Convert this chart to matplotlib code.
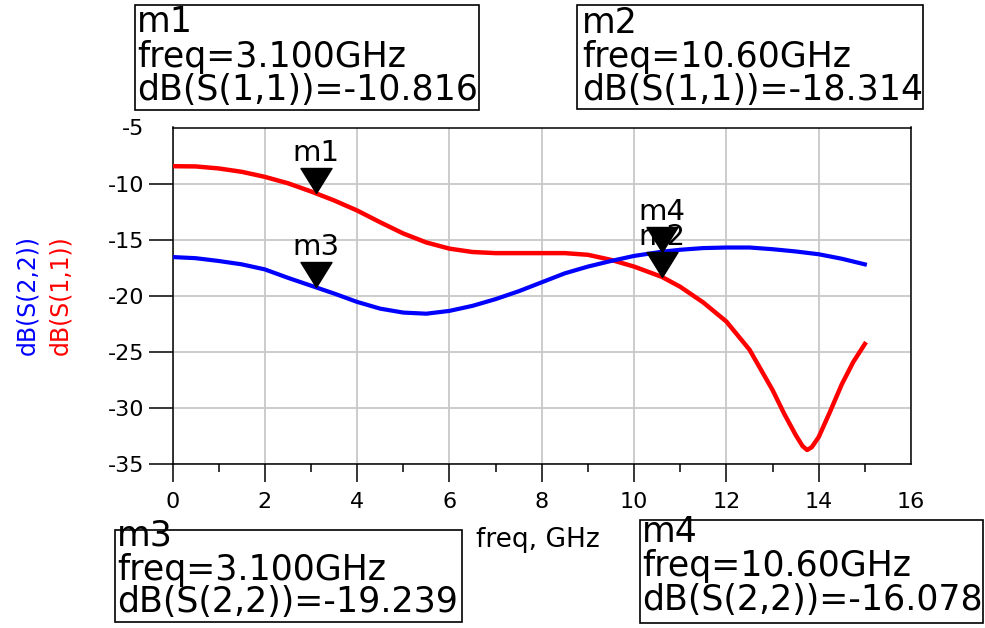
import matplotlib.pyplot as plt
from matplotlib.patches import Rectangle

plt.rcParams['font.family'] = 'DejaVu Sans'
plt.rcParams['axes.unicode_minus'] = False

# Dados (ADS): dB(S(1,1)) e dB(S(2,2)) x freq (GHz)
freq_s11 = [0.0, 0.5, 1.0, 1.5, 2.0, 2.5, 3.0, 3.5, 4.0, 4.5, 5.0, 5.5, 6.0, 6.5,
            7.0, 7.5, 8.0, 8.5, 9.0, 9.5, 10.0, 10.6, 11.0, 11.5, 12.0, 12.5,
            13.0, 13.25, 13.5, 13.65, 13.75, 13.85, 14.0, 14.25, 14.5, 14.75, 15.0]
s11_db = [-8.45, -8.47, -8.65, -8.95, -9.4, -9.97, -10.7, -11.5, -12.4, -13.45,
          -14.45, -15.25, -15.8, -16.1, -16.2, -16.2, -16.2, -16.2, -16.35, -16.8,
          -17.4, -18.314, -19.2, -20.6, -22.3, -24.8, -28.4, -30.5, -32.4, -33.4,
          -33.75, -33.5, -32.6, -30.3, -27.9, -25.9, -24.3]

freq_s22 = [0.0, 0.5, 1.0, 1.5, 2.0, 2.5, 3.0, 3.5, 4.0, 4.5, 5.0, 5.5, 6.0, 6.5,
            7.0, 7.5, 8.0, 8.5, 9.0, 9.5, 10.0, 10.6, 11.0, 11.5, 12.0, 12.5,
            13.0, 13.5, 14.0, 14.5, 15.0]
s22_db = [-16.55, -16.65, -16.9, -17.2, -17.65, -18.4, -19.1, -19.8, -20.55, -21.15,
          -21.5, -21.6, -21.35, -20.9, -20.3, -19.6, -18.8, -18.0, -17.4, -16.9,
          -16.45, -16.078, -15.9, -15.75, -15.7, -15.7, -15.85, -16.05, -16.3, -16.7,
          -17.2]

# Marcadores
marker_names = ['m1', 'm2', 'm3', 'm4']
marker_freq = [3.1, 10.6, 3.1, 10.6]
marker_db = [-10.816, -18.314, -19.239, -16.078]
marker_freq_text = ['3.100', '10.60', '3.100', '10.60']
marker_param = ['S(1,1)', 'S(1,1)', 'S(2,2)', 'S(2,2)']

W, H = 985, 628
fig = plt.figure(figsize=(W / 100, H / 100), dpi=100)
ax = fig.add_axes([172.5 / W, 1 - 464 / H, (911 - 172.5) / W, (464 - 127.5) / H])

ax.plot(freq_s11, s11_db, color='red', linewidth=3.2, zorder=3, solid_joinstyle='round')
ax.plot(freq_s22, s22_db, color='blue', linewidth=3, zorder=3, solid_joinstyle='round')

# triângulo com a ponta no ponto do marcador
tri = [(0, 0), (-0.62, 1), (0.62, 1), (0, 0)]
for nome, f, v in zip(marker_names, marker_freq, marker_db):
    ax.plot([f], [v], marker=tri, markersize=36, color='black', linestyle='none', zorder=5)
    ax.annotate(nome, (f, v), xytext=(0, 23), textcoords='offset points',
                ha='center', va='baseline', fontsize=21, zorder=6)

ax.set_xlim(0, 16)
ax.set_ylim(-35, -5)
ax.set_xticks(range(0, 17, 2))
ax.set_xticks(range(1, 16, 2), minor=True)
ax.set_yticks(range(-35, -4, 5))
ax.tick_params(axis='x', which='major', length=13, width=1.1, pad=7, labelsize=16)
ax.tick_params(axis='x', which='minor', length=6, width=1.1)
ax.tick_params(axis='y', which='major', length=17, width=1.1, pad=3, labelsize=16)
ax.xaxis.get_major_ticks()[-1].tick1line.set_visible(False)
ax.yaxis.get_major_ticks()[-1].tick1line.set_visible(False)
ax.grid(True, which='major', color='#c8c8c8', linewidth=1.3)
for s in ax.spines.values():
    s.set_linewidth(1.1)

# rótulos dos eixos
fig.text(538 / W, 1 - 547 / H, 'freq, GHz', fontsize=19, ha='center', va='baseline')
fig.text(27 / W, 1 - 295 / H, 'dB(S(2,2))', fontsize=17, color='blue',
         rotation=90, ha='center', va='center')
fig.text(60 / W, 1 - 295 / H, 'dB(S(1,1))', fontsize=17, color='red',
         rotation=90, ha='center', va='center')

# caixas dos marcadores (pixels: x0, y0, x1, y1, x do texto, linhas de base)
caixas = [
    (135, 5, 479, 110, 137, [32, 67, 100]),
    (577, 5, 923, 109, 582, [33, 67, 100]),
    (115, 530, 462, 622, 117, [546, 580, 612]),
    (640, 520, 983, 623, 642, [542, 576, 610]),
]
for i, (x0, y0, x1, y1, xt, bases) in enumerate(caixas):
    fig.add_artist(Rectangle((x0 / W, 1 - y1 / H), (x1 - x0) / W, (y1 - y0) / H,
                             transform=fig.transFigure, fill=False,
                             edgecolor='black', linewidth=1.2))
    linhas = [marker_names[i],
              'freq=' + marker_freq_text[i] + 'GHz',
              'dB(' + marker_param[i] + ')=' + '%.3f' % marker_db[i]]
    for txt, b in zip(linhas, bases):
        fig.text(xt / W, 1 - b / H, txt, fontsize=25, ha='left', va='baseline')

fig.savefig('out.png', dpi=100)
